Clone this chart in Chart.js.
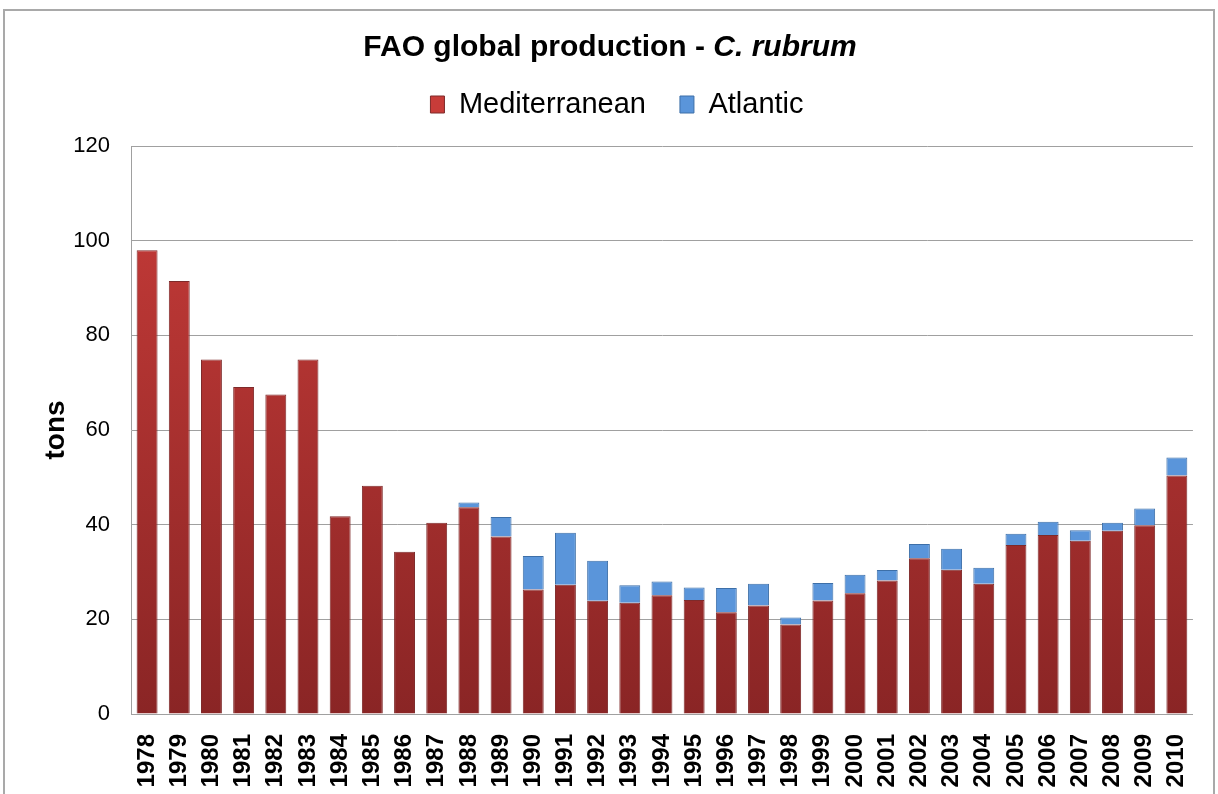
<!DOCTYPE html>
<html>
<head>
<meta charset="utf-8">
<script src="https://cdn.jsdelivr.net/npm/chart.js@4"></script>
<style>
  html, body { margin: 0; padding: 0; background: #fff; }
  #wrap { width: 1218px; height: 794px; position: relative; }
</style>
</head>
<body>
<div id="wrap"><canvas id="prod" width="1218" height="794"></canvas></div>
<script>
// FAO production of C. rubrum, tons
const years = ['1978', '1979', '1980', '1981', '1982', '1983', '1984', '1985', '1986', '1987',
  '1988', '1989', '1990', '1991', '1992', '1993', '1994', '1995', '1996', '1997',
  '1998', '1999', '2000', '2001', '2002', '2003', '2004', '2005', '2006', '2007',
  '2008', '2009', '2010']
const mediterranean = [98.0, 91.5, 74.9, 69.1, 67.5, 74.9, 41.8, 48.2, 34.3, 40.4,
  43.7, 37.5, 26.3, 27.3, 23.9, 23.5, 25.1, 24.1, 21.5, 22.9,
  18.9, 24.0, 25.5, 28.2, 32.9, 30.5, 27.5, 35.7, 37.8, 36.6,
  38.7, 39.9, 50.4]
const atlantic = [0, 0, 0, 0, 0, 0, 0, 0, 0, 0,
  1.0, 4.1, 7.1, 11.0, 8.5, 3.7, 2.9, 2.6, 5.1, 4.6,
  1.5, 3.7, 3.9, 2.2, 3.0, 4.4, 3.4, 2.4, 2.8, 2.2,
  1.7, 3.5, 3.8]
const yTicks = [0, 20, 40, 60, 80, 100, 120]

const font = 'Liberation Sans, Arial, Helvetica, sans-serif'

// vertical shading like the office-style bars
function shade(top, bottom) {
  return ctx => {
    const area = ctx.chart.chartArea
    if (!area) return top
    const g = ctx.chart.ctx.createLinearGradient(0, area.top, 0, area.bottom)
    g.addColorStop(0, top)
    g.addColorStop(1, bottom)
    return g
  }
}

// extra room under the legend before the plot starts
const legendGap = {
  id: 'legendGap',
  beforeInit(chart) {
    const lg = chart.legend
    if (!lg) return
    const fit = lg.fit
    lg.fit = function () {
      fit.call(this)
      this.height += 17
    }
  }
}

// frame + title with italic species name
const decor = {
  id: 'decor',
  beforeDraw(chart) {
    const c = chart.ctx
    c.save()
    c.strokeStyle = '#a9a9a9'
    c.lineWidth = 2
    c.strokeRect(4, 10, 1210, 800)
    c.restore()
  },
  afterDraw(chart) {
    const c = chart.ctx
    c.save()
    const a = 'FAO global production - '
    const b = 'C. rubrum'
    c.fillStyle = '#000'
    c.textBaseline = 'middle'
    c.font = 'bold 30px ' + font
    const wa = c.measureText(a).width
    c.font = 'italic bold 30px ' + font
    const wb = c.measureText(b).width
    let x = 610 - (wa + wb) / 2
    c.font = 'bold 30px ' + font
    c.fillText(a, x, 48)
    c.font = 'italic bold 30px ' + font
    c.fillText(b, x + wa, 48)
    c.restore()
  }
}

new Chart(document.getElementById('prod'), {
  type: 'bar',
  data: {
    labels: years,
    datasets: [
      {
        label: 'Mediterranean',
        data: mediterranean,
        backgroundColor: shade('#c83c39', '#8a2525'),
        borderColor: '#7e2a2a',
        borderWidth: 1
      },
      {
        label: 'Atlantic',
        data: atlantic,
        backgroundColor: '#5a95da',
        borderColor: '#3d6fa8',
        borderWidth: 1
      }
    ]
  },
  options: {
    responsive: false,
    animation: false,
    categoryPercentage: 0.65,
    barPercentage: 1,
    layout: {
      padding: { top: 56, right: 23, left: 39, bottom: 0 }
    },
    plugins: {
      title: { display: false },
      tooltip: { enabled: false },
      legend: {
        display: true,
        position: 'top',
        labels: {
          color: '#000',
          boxWidth: 14,
          boxHeight: 17,
          padding: 34,
          font: { family: font, size: 29 }
        }
      }
    },
    scales: {
      x: {
        stacked: true,
        grid: { display: false },
        border: { color: '#a0a0a0', width: 1 },
        ticks: {
          autoSkip: false,
          minRotation: 90,
          maxRotation: 90,
          padding: 12,
          color: '#000',
          font: { family: font, size: 24, weight: 'bold' }
        },
        afterFit(scale) { scale.height = 80 }
      },
      y: {
        stacked: true,
        min: 0,
        max: 120,
        afterBuildTicks(scale) { scale.ticks = yTicks.map(v => ({ value: v })) },
        grid: { color: '#a0a0a0', lineWidth: 1, drawTicks: false },
        border: { color: '#a0a0a0', width: 1 },
        ticks: {
          padding: 21,
          color: '#000',
          font: { family: font, size: 22 }
        },
        title: {
          display: true,
          text: 'tons',
          color: '#000',
          padding: { top: 0, bottom: 0 },
          font: { family: font, size: 28, weight: 'bold' }
        },
        afterFit(scale) { scale.width = 92 }
      }
    }
  },
  plugins: [legendGap, decor]
})
</script>
</body>
</html>
